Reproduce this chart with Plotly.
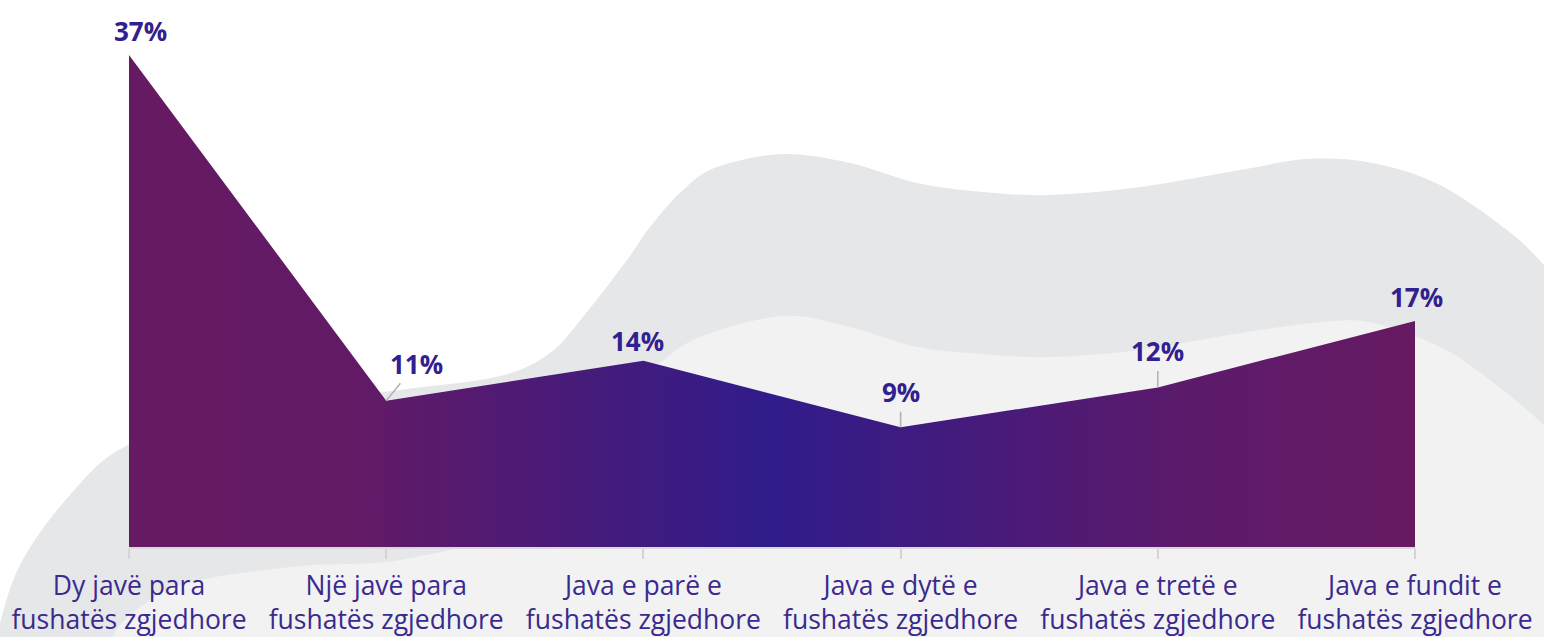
import plotly.graph_objects as go

# ---- data ----
categories = [
    "Dy javë para<br>fushatës zgjedhore",
    "Një javë para<br>fushatës zgjedhore",
    "Java e parë e<br>fushatës zgjedhore",
    "Java e dytë e<br>fushatës zgjedhore",
    "Java e tretë e<br>fushatës zgjedhore",
    "Java e fundit e<br>fushatës zgjedhore",
]
values = [37, 11, 14, 9, 12, 17]
value_labels = [f"{v}%" for v in values]

# ---- layout geometry (pixels) ----
W, H = 1544, 637
ML, MR, MT, MB = 129, 129, 15, 90
PW, PH = W - ML - MR, H - MT - MB
YMAX = 40

# label offsets (pixels, text centre relative to point) and leader flag
label_offsets = [(11, -24, False), (30, -37, True), (-6, -20, False),
                 (0, -35, True), (0, -36, True), (1, -24, False)]


def to_paper(px, py):
    return (px - ML) / PW, (H - MB - py) / PH


def smooth_path(pts, closing):
    pp = [to_paper(x, y) for x, y in pts]
    d = f"M {pp[0][0]:.5f},{pp[0][1]:.5f}"
    n = len(pp)
    for i in range(n - 1):
        p0 = pp[i - 1] if i > 0 else pp[i]
        p1 = pp[i]
        p2 = pp[i + 1]
        p3 = pp[i + 2] if i + 2 < n else pp[i + 1]
        c1 = (p1[0] + (p2[0] - p0[0]) / 6, p1[1] + (p2[1] - p0[1]) / 6)
        c2 = (p2[0] - (p3[0] - p1[0]) / 6, p2[1] - (p3[1] - p1[1]) / 6)
        d += f" C {c1[0]:.5f},{c1[1]:.5f} {c2[0]:.5f},{c2[1]:.5f} {p2[0]:.5f},{p2[1]:.5f}"
    for x, y in closing:
        q = to_paper(x, y)
        d += f" L {q[0]:.5f},{q[1]:.5f}"
    return d + " Z"


outer_pts = [(-30, 720), (-5, 640), (20, 565), (70, 495), (130, 444), (250, 410),
             (400, 390), (500, 376), (550, 353), (583, 317), (627, 260),
             (650, 227), (683, 190), (717, 167), (783, 154), (850, 163),
             (917, 183), (983, 192), (1050, 195), (1140, 187), (1240, 170),
             (1307, 159), (1373, 163), (1440, 185), (1507, 230), (1544, 265),
             (1600, 330)]
inner_pts = [(95, 700), (112, 637), (150, 600), (200, 580), (300, 566),
             (400, 560), (500, 530), (580, 450), (630, 390), (660, 363),
             (700, 337), (783, 316), (850, 327), (917, 347), (983, 354),
             (1050, 357), (1140, 350), (1240, 333), (1323, 322), (1373, 323),
             (1440, 347), (1490, 380), (1544, 425), (1600, 480)]

shapes = [
    dict(type="path", xref="paper", yref="paper", layer="below",
         path=smooth_path(outer_pts, [(1600, 720)]),
         fillcolor="#e6e7e8", line=dict(width=0)),
    dict(type="path", xref="paper", yref="paper", layer="below",
         path=smooth_path(inner_pts, [(1600, 720)]),
         fillcolor="#f2f2f2", line=dict(width=0)),
]

x = list(range(len(categories)))

fig = go.Figure()
fig.add_trace(go.Scatter(
    x=x, y=values, mode="lines", fill="tozeroy",
    line=dict(width=0, color="#5a1a6a"),
    fillgradient=dict(
        type="horizontal",
        colorscale=[[0.0, "#661a62"], [0.18, "#621a66"], [0.5, "#301c8b"],
                    [0.82, "#5c1a6b"], [1.0, "#661a62"]],
    ),
    hoverinfo="skip", showlegend=False,
))

annotations = []
for xi, v, txt, (dx, dy, leader) in zip(x, values, value_labels, label_offsets):
    annotations.append(dict(
        x=xi, y=v, xref="x", yref="y", text=f"<b>{txt}</b>",
        showarrow=True, ax=dx, ay=dy, arrowhead=0, arrowwidth=1.6,
        arrowcolor="#b4b4b4" if leader else "rgba(0,0,0,0)", standoff=0,
        font=dict(family="Open Sans", size=26, color="#31208e"),
    ))

fig.update_layout(
    width=W, height=H,
    margin=dict(l=ML, r=MR, t=MT, b=MB),
    paper_bgcolor="white", plot_bgcolor="rgba(0,0,0,0)",
    shapes=shapes, annotations=annotations,
    xaxis=dict(range=[0, len(categories) - 1], tickmode="array", tickvals=x,
               ticktext=categories, showgrid=False, zeroline=False,
               automargin=False,
               showline=True, linecolor="#d9d9d9", linewidth=2,
               ticks="outside", ticklen=10, tickwidth=1.5, tickcolor="#d4d4d4",
               ticklabelstandoff=4,
               tickfont=dict(family="Open Sans", size=26.5, color="#3a2a8e")),
    yaxis=dict(range=[0, YMAX], visible=False, showgrid=False, zeroline=False,
               automargin=False),
    showlegend=False,
)

# remove the browser's default 8px body margin so the figure fills the window
fig.write_html("out.html",
               config={"displayModeBar": False},
               post_script="document.body.style.margin='0';"
                           "document.body.style.overflow='hidden';")
